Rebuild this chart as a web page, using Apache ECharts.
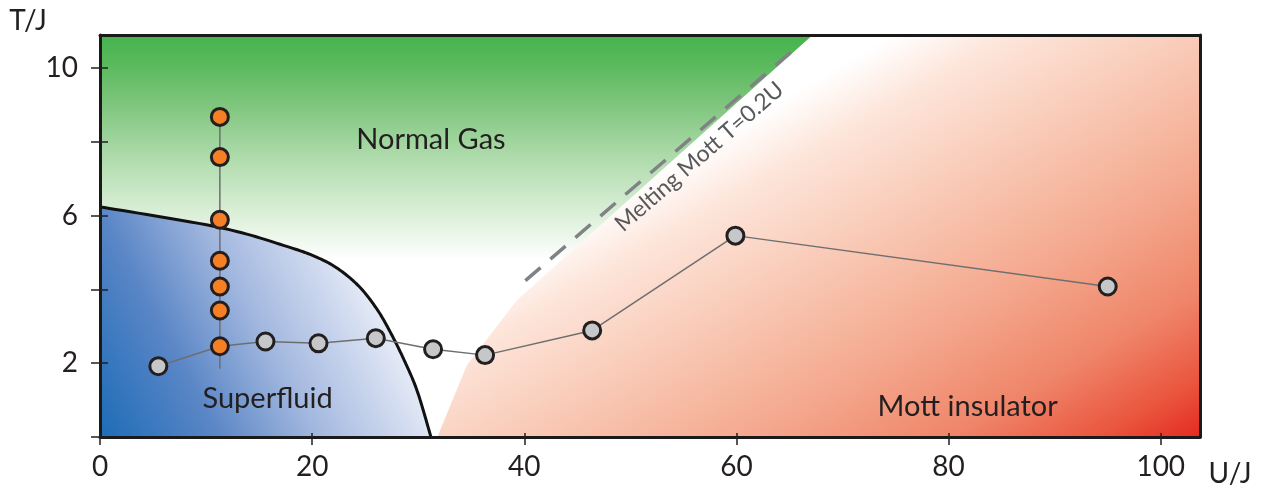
<!DOCTYPE html>
<html><head><meta charset="utf-8">
<script src="https://cdn.jsdelivr.net/npm/echarts@6/dist/echarts.min.js"></script>
<style>html,body{margin:0;padding:0;background:#fff}#c{width:1270px;height:489px}</style>
</head><body><div id="c"></div>
<script>
// ---- data ----
const xTickValues = [0, 20, 40, 60, 80, 100];
const yTickValues = [0, 2, 4, 6, 8, 10];
const yLabelValues = [2, 6, 10];
const grayU = [5.5, 15.6, 20.6, 26.0, 31.4, 36.3, 46.4, 59.9, 95.0];
const grayT = [1.92, 2.59, 2.54, 2.68, 2.38, 2.22, 2.89, 5.46, 4.08];
const orangeU = [11.3, 11.3, 11.3, 11.3, 11.3, 11.3, 11.3];
const orangeT = [8.68, 7.59, 5.89, 4.78, 4.08, 3.43, 2.46];
const stemU = [11.3, 11.3];
const stemT = [1.85, 8.68];
const boundaryU = [0, 11.3, 17.9, 20.7, 22.6, 24.5, 26.1, 27.3, 28.6, 29.9, 31.2];
const boundaryT = [6.24, 5.68, 5.14, 4.84, 4.53, 4.06, 3.47, 2.88, 2.13, 1.25, 0];
const meltU = [40.1, 65.8];
const meltT = [4.24, 10.6];
const gasRegionU = [0, 67.2, 39.3, 30, 0];
const gasRegionT = [10.9, 10.9, 3.71, 4.0, 4.0];
const mottRegionU = [31.8, 34.6, 39.3, 67.2, 103.7, 103.7];
const mottRegionT = [0, 1.95, 3.71, 10.9, 10.9, 0];
const regionLabels = ['Normal Gas', 'Superfluid', 'Mott insulator'];
const regionLabelU = [31.2, 15.8, 81.8];
const regionLabelT = [8.05, 1.03, 0.81];
const meltLabel = 'Melting Mott T=0.2U';
const meltLabelU = [56.5];
const meltLabelT = [7.6];
const X_MAX = 103.7, Y_MAX = 10.9;

// ---- derived ----
const pairs = (u, t) => u.map((v, i) => [v, t[i]]);
const grayPts = pairs(grayU, grayT);
const orangePts = pairs(orangeU, orangeT);
const orangeLow = orangePts.reduce((a, b) => (b[1] < a[1] ? b : a));
const grayPath = grayPts.concat([orangeLow]).sort((a, b) => a[0] - b[0]);

const FONT = 'Lato, "Open Sans", sans-serif';
const TXT = '#231f20';

// Catmull-Rom through pixel points (rendering only)
function spline(pts, n) {
  const out = [];
  for (let i = 0; i < pts.length - 1; i++) {
    const p0 = pts[Math.max(0, i - 1)], p1 = pts[i], p2 = pts[i + 1], p3 = pts[Math.min(pts.length - 1, i + 2)];
    for (let s = 0; s < n; s++) {
      const t = s / n, t2 = t * t, t3 = t2 * t;
      out.push([0, 1].map(k => 0.5 * ((2 * p1[k]) + (-p0[k] + p2[k]) * t + (2 * p0[k] - 5 * p1[k] + 4 * p2[k] - p3[k]) * t2 + (-p0[k] + 3 * p1[k] - 3 * p2[k] + p3[k]) * t3)));
    }
  }
  out.push(pts[pts.length - 1]);
  return out;
}

function polygonSeries(us, ts, fillFn, z) {
  return {
    type: 'custom', z: z, silent: true, clip: true,
    data: [[us[0], ts[0]]],
    renderItem: function (params, api) {
      const pts = us.map((u, i) => api.coord([u, ts[i]]));
      return { type: 'polygon', shape: { points: pts }, style: { fill: fillFn(), stroke: null } };
    }
  };
}

const chart = echarts.init(document.getElementById('c'), null, { renderer: 'canvas' });
const axisLineStyle = { color: '#1a1a1a', width: 3 };
const tickStyle = { color: TXT, width: 1.5 };

const option = {
  animation: false,
  backgroundColor: '#fff',
  grid: { left: 100, right: 70, top: 35, bottom: 52, containLabel: false },
  xAxis: [
    { type: 'value', min: 0, max: X_MAX, position: 'bottom', z: 10,
      axisLine: { show: true, onZero: false, lineStyle: axisLineStyle },
      axisTick: { show: true, length: 8, lineStyle: tickStyle, customValues: xTickValues },
      axisLabel: { show: true, fontSize: 28, color: TXT, fontFamily: FONT, margin: 16, customValues: xTickValues },
      splitLine: { show: false } },
    { type: 'value', min: 0, max: X_MAX, position: 'bottom', z: 10,
      axisLine: { show: false, onZero: false },
      axisTick: { show: true, inside: true, length: 4, lineStyle: tickStyle, customValues: xTickValues },
      axisLabel: { show: false }, splitLine: { show: false } },
    { type: 'value', min: 0, max: X_MAX, position: 'top', z: 10,
      axisLine: { show: true, onZero: false, lineStyle: axisLineStyle },
      axisTick: { show: false }, axisLabel: { show: false }, splitLine: { show: false } }
  ],
  yAxis: [
    { type: 'value', min: 0, max: Y_MAX, position: 'left', z: 10,
      axisLine: { show: true, onZero: false, lineStyle: axisLineStyle },
      axisTick: { show: true, length: 9, lineStyle: tickStyle, customValues: yTickValues },
      axisLabel: { show: true, fontSize: 28, color: TXT, fontFamily: FONT, margin: 22, customValues: yLabelValues },
      splitLine: { show: false } },
    { type: 'value', min: 0, max: Y_MAX, position: 'left', z: 10,
      axisLine: { show: false, onZero: false },
      axisTick: { show: true, inside: true, length: 8, lineStyle: tickStyle, customValues: yTickValues },
      axisLabel: { show: false }, splitLine: { show: false } },
    { type: 'value', min: 0, max: Y_MAX, position: 'right', z: 10,
      axisLine: { show: true, onZero: false, lineStyle: axisLineStyle },
      axisTick: { show: false }, axisLabel: { show: false }, splitLine: { show: false } }
  ],
  graphic: [
    { type: 'text', x: 28, y: 21, z: 20, style: { text: 'T/J', fontSize: 28, fontFamily: FONT, fill: TXT, align: 'center', verticalAlign: 'middle' } },
    { type: 'text', x: 1230, y: 474, z: 20, style: { text: 'U/J', fontSize: 28, fontFamily: FONT, fill: TXT, align: 'center', verticalAlign: 'middle' } }
  ],
  series: [
    polygonSeries(gasRegionU, gasRegionT, () => new echarts.graphic.LinearGradient(0, 0, 0, 1, [
      { offset: 0, color: '#45b34c' },
      { offset: 0.12, color: '#5cba5e' },
      { offset: 0.27, color: '#80c67f' },
      { offset: 0.45, color: '#acdaa9' },
      { offset: 0.65, color: '#d6edd3' },
      { offset: 0.85, color: '#ffffff' },
      { offset: 1, color: '#ffffff' }
    ]), 1),
    polygonSeries(mottRegionU, mottRegionT, () => new echarts.graphic.LinearGradient(0.67, -0.08, 1, 1, [
      { offset: 0, color: '#ffffff' },
      { offset: 0.12, color: '#fde5da' },
      { offset: 0.35, color: '#f8c5b0' },
      { offset: 0.55, color: '#f4a88e' },
      { offset: 0.75, color: '#ef8569' },
      { offset: 0.9, color: '#ea553e' },
      { offset: 1, color: '#e42a21' }
    ]), 1),
    { type: 'custom', name: 'superfluid', z: 3, silent: true, clip: true,
      data: [[boundaryU[0], boundaryT[0]]],
      renderItem: function (params, api) {
        const px = boundaryU.map((u, i) => api.coord([u, boundaryT[i]]));
        const curve = spline(px, 16);
        const poly = curve.concat([api.coord([boundaryU[boundaryU.length - 1], 0]), api.coord([boundaryU[0], 0])]);
        return { type: 'group', children: [
          { type: 'polygon', shape: { points: poly }, style: { stroke: null, fill: new echarts.graphic.LinearGradient(0, 1, 1, 0.25, [
            { offset: 0, color: '#1d6cb7' },
            { offset: 0.28, color: '#5a86c6' },
            { offset: 0.52, color: '#a3b8df' },
            { offset: 0.75, color: '#d5def1' },
            { offset: 0.93, color: '#ffffff' },
            { offset: 1, color: '#ffffff' }
          ]) } },
          { type: 'polyline', shape: { points: curve }, style: { stroke: '#111', lineWidth: 3, fill: null, lineJoin: 'round' } }
        ] };
      } },
    { type: 'line', name: 'melt', z: 4, silent: true, data: pairs(meltU, meltT), symbol: 'none',
      lineStyle: { color: '#808285', width: 3.5, type: [20, 13] } },
    { type: 'line', name: 'stem', z: 5, silent: true, data: pairs(stemU, stemT), symbol: 'none',
      lineStyle: { color: '#6d6e70', width: 1.5 } },
    { type: 'line', name: 'grayPath', z: 5, silent: true, data: grayPath, symbol: 'none',
      lineStyle: { color: '#6d6e70', width: 1.5 } },
    { type: 'scatter', name: 'gray', z: 6, silent: true, data: grayPts, symbol: 'circle', symbolSize: 17,
      itemStyle: { color: '#c6c7c8', borderColor: '#231f20', borderWidth: 3, opacity: 1 } },
    { type: 'scatter', name: 'orange', z: 7, silent: true, data: orangePts, symbol: 'circle', symbolSize: 17,
      itemStyle: { color: '#f47f24', borderColor: '#231f20', borderWidth: 3, opacity: 1 } },
    { type: 'custom', name: 'regionLabels', z: 8, silent: true, clip: false,
      data: pairs(regionLabelU, regionLabelT),
      renderItem: function (params, api) {
        const p = api.coord([api.value(0), api.value(1)]);
        return { type: 'text', x: p[0], y: p[1],
          style: { text: regionLabels[params.dataIndex], fontSize: 29, fontFamily: FONT, fill: TXT, align: 'center', verticalAlign: 'middle' } };
      } },
    { type: 'custom', name: 'meltLabel', z: 8, silent: true, clip: false,
      data: pairs(meltLabelU, meltLabelT),
      renderItem: function (params, api) {
        const p = api.coord([api.value(0), api.value(1)]);
        return { type: 'text', x: p[0], y: p[1], rotation: 41 * Math.PI / 180,
          style: { text: meltLabel, fontSize: 23, fontFamily: FONT, fill: '#58595b', align: 'center', verticalAlign: 'middle' } };
      } }
  ]
};
chart.setOption(option);
</script>
</body></html>
